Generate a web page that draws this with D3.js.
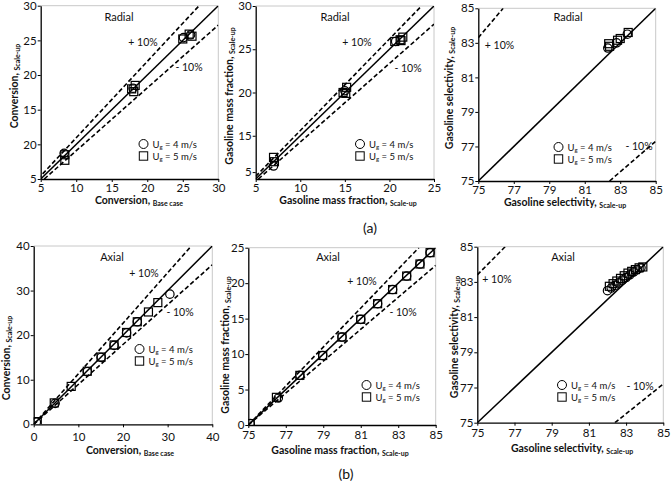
<!DOCTYPE html>
<html>
<head>
<meta charset="utf-8">
<script src="https://cdn.jsdelivr.net/npm/d3@7"></script>
<style>
  body { margin: 0; background: #fff; }
  svg { font-family: Lato, "Open Sans", sans-serif; }
</style>
</head>
<body>
<svg id="fig" width="671" height="483"></svg>
<script>
  // ---- data ----
  // (a) radial
  var radConv4 = [[8.3, 8.7], [18.0, 18.1], [25.1, 25.4], [26.1, 25.8]];
  var radConv5 = [[8.4, 8.5], [8.4, 7.7], [17.8, 18.0], [18.3, 18.5], [18.1, 17.6], [25.0, 25.2], [25.9, 25.9], [26.3, 25.6]];
  var radConvUpper = [[4.6, 5], [27.3, 30]];
  var radConvLower = [[5.5, 5], [30, 27.2]];

  var radGas4 = [[7.0, 6.5], [15.0, 15.2], [20.7, 20.9]];
  var radGas5 = [[7.0, 7.5], [7.1, 7.0], [14.8, 15.0], [15.2, 15.6], [15.1, 14.9], [20.6, 20.9], [21.2, 21.1], [21.5, 21.4], [21.3, 21.0]];
  var radGasUpper = [[5, 5.3], [23.6, 25]];
  var radGasLower = [[5.3, 5], [25, 22.9]];

  var radSel4 = [[82.3, 82.7], [82.8, 83.0], [83.4, 83.5]];
  var radSel5 = [[82.35, 82.95], [82.4, 82.8], [82.85, 83.15], [83.0, 83.25], [83.45, 83.6]];
  var radSelUpper = [[75, 83.3], [76.4, 85]];
  var radSelLower = [[82.4, 75], [85, 77.3]];

  // (b) axial
  var axConv4 = [[0.6, 0.5], [4.8, 4.7], [12.0, 11.8], [15.1, 15.0], [18.0, 17.7], [20.8, 20.5], [23.2, 23.0], [30.5, 29.2]];
  var axConv5 = [[0.8, 0.6], [4.6, 4.8], [8.4, 8.5], [12.0, 11.9], [15.1, 15.1], [18.0, 17.8], [20.8, 20.6], [23.2, 23.0], [25.7, 25.2], [27.8, 27.3]];
  var axConvUpper = [[0, 0], [35.3, 40]];
  var axConvLower = [[0, 0], [40, 35.8]];

  var axGas4 = [[75.1, 0.2], [76.6, 3.8], [77.75, 7.0], [78.97, 9.8], [80.0, 12.4], [81.0, 14.9], [81.9, 17.1], [82.7, 19.1], [83.45, 21.0], [84.16, 22.7], [84.7, 24.3]];
  var axGas5 = [[75.1, 0.2], [76.5, 3.9], [77.75, 7.0], [78.97, 9.8], [80.0, 12.4], [81.0, 14.9], [81.9, 17.1], [82.7, 19.1], [83.45, 21.0], [84.16, 22.7], [84.7, 24.3]];
  var axGasUpper = [[75, 0], [84.1, 25]];
  var axGasLower = [[75, 0], [85, 22.5]];

  var axSel4 = [[82.0, 82.5], [82.2, 82.65], [82.4, 82.8], [82.6, 82.95], [82.8, 83.1], [83.0, 83.25], [83.2, 83.4], [83.4, 83.55], [83.6, 83.7], [83.8, 83.8]];
  var axSel5 = [[82.1, 82.75], [82.3, 82.9], [82.5, 83.05], [82.7, 83.2], [82.9, 83.35], [83.1, 83.5], [83.3, 83.6], [83.5, 83.7], [83.7, 83.8], [83.9, 83.85]];
  var axSelUpper = [[75, 83.4], [76.5, 85]];
  var axSelLower = [[82.4, 75], [85, 77.2]];

  // ticks
  var convTicks = [5, 10, 15, 20, 25, 30];
  var convYLabels = ['5', '20', '15', '20', '25', '30'];
  var gasTicks = [5, 10, 15, 20, 25];
  var gasYTicks = [5.8, 10, 15, 20, 25];
  var gasYLabels = ['5', '15', '20', '25', '30'];
  var selTicks = [75, 77, 79, 81, 83, 85];
  var axConvTicks = [0, 10, 20, 30, 40];
  var axGasYTicks = [0, 5, 10, 15, 20, 25];

  var panels = [
    { box: [40.7, 5.7, 177.6, 173.3], xd: [5, 30], yd: [5, 30], xt: convTicks, yt: convTicks, yl: convYLabels,
      s4: radConv4, s5: radConv5, up: radConvUpper, lo: radConvLower, pad: 2.3,
      name: 'Radial', nameAt: [119, 17], plusAt: [143, 42], minusAt: [189, 67], legAt: [143.5, 144],
      xTitle: ['Conversion, ', 'Base case'], xTitleAt: [139, 204],
      yTitle: ['Conversion, ', 'Scale-up'], yTitleAt: [18, 86] },
    { box: [255.7, 6, 178.3, 173], xd: [5, 25], yd: [5, 25], xt: gasTicks, yt: gasYTicks, yl: gasYLabels,
      s4: radGas4, s5: radGas5, up: radGasUpper, lo: radGasLower, pad: 1.5,
      name: 'Radial', nameAt: [335, 17], plusAt: [357, 42], minusAt: [408, 68], legAt: [360, 144],
      xTitle: ['Gasoline mass fraction, ', 'Scale-up'], xTitleAt: [348, 204],
      yTitle: ['Gasoline mass fraction, ', 'Scale-up'], yTitleAt: [233, 96] },
    { box: [478.3, 8.3, 177.4, 172.7], xd: [75, 85], yd: [75, 85], xt: selTicks, yt: selTicks,
      s4: radSel4, s5: radSel5, up: radSelUpper, lo: radSelLower, pad: 1.5,
      name: 'Radial', nameAt: [568, 17], plusAt: [499.5, 45], minusAt: [639, 146], legAt: [558.5, 147],
      xTitle: ['Gasoline selectivity, ', 'Scale-up'], xTitleAt: [565, 206],
      yTitle: ['Gasoline selectivity, ', 'Scale-up'], yTitleAt: [453, 88] },
    { box: [33.7, 246, 178.6, 178.3], xd: [0, 40], yd: [0, 40], xt: axConvTicks, yt: axConvTicks,
      s4: axConv4, s5: axConv5, up: axConvUpper, lo: axConvLower, pad: 5.4,
      name: 'Axial', nameAt: [112, 257], plusAt: [144, 273], minusAt: [180, 312], legAt: [139.5, 349],
      xTitle: ['Conversion, ', 'Base case'], xTitleAt: [130, 454],
      yTitle: ['Conversion, ', 'Scale-up'], yTitleAt: [10, 358] },
    { box: [248.3, 247.7, 187.4, 177.3], xd: [75, 85], yd: [0, 25], xt: selTicks, yt: axGasYTicks,
      s4: axGas4, s5: axGas5, up: axGasUpper, lo: axGasLower, pad: 3,
      name: 'Axial', nameAt: [328, 257], plusAt: [362, 281], minusAt: [403, 312], legAt: [366.5, 385],
      xTitle: ['Gasoline mass fraction, ', 'Scale-up'], xTitleAt: [340, 454],
      yTitle: ['Gasoline mass fraction, ', 'Scale-up'], yTitleAt: [229, 345] },
    { box: [477.3, 246.7, 186, 176], xd: [75, 85], yd: [75, 85], xt: selTicks, yt: selTicks,
      s4: axSel4, s5: axSel5, up: axSelUpper, lo: axSelLower, pad: 3,
      name: 'Axial', nameAt: [563, 257], plusAt: [497, 279], minusAt: [640, 386], legAt: [562, 385],
      xTitle: ['Gasoline selectivity, ', 'Scale-up'], xTitleAt: [572, 452],
      yTitle: ['Gasoline selectivity, ', 'Scale-up'], yTitleAt: [458, 337] }
  ];

  var svg = d3.select('#fig');

  panels.forEach(function (p, i) {
    var w = p.box[2], h = p.box[3];
    var g = svg.append('g').attr('transform', 'translate(' + p.box[0] + ',' + p.box[1] + ')');

    var x = d3.scaleLinear().domain(p.xd).range([0, w]);
    var y = d3.scaleLinear().domain(p.yd).range([h, 0]);

    // light plot-area border on top/right
    g.append('path')
        .attr('d', 'M0,0H' + w + 'V' + h)
        .attr('fill', 'none')
        .attr('stroke', '#c8c8c8')
        .attr('stroke-width', 1);

    g.append('defs').append('clipPath')
        .attr('id', 'clip' + i)
        .append('rect')
          .attr('width', w)
          .attr('height', h);

    var plot = g.append('g').attr('clip-path', 'url(#clip' + i + ')');

    var line = d3.line()
        .x(function (d) { return x(d[0]); })
        .y(function (d) { return y(d[1]); });

    var diag = [[p.xd[0], p.yd[0]], [p.xd[1], p.yd[1]]];
    plot.append('path').datum(diag)
        .attr('d', line).attr('fill', 'none')
        .attr('stroke', '#000').attr('stroke-width', 1.5);

    [p.up, p.lo].forEach(function (l) {
      plot.append('path').datum(l)
          .attr('d', line).attr('fill', 'none')
          .attr('stroke', '#000').attr('stroke-width', 1.6)
          .attr('stroke-dasharray', '4.5,2.5');
    });

    // U_g = 5 m/s squares
    plot.selectAll('rect.s5').data(p.s5).enter().append('rect')
        .attr('class', 's5')
        .attr('x', function (d) { return x(d[0]) - 4; })
        .attr('y', function (d) { return y(d[1]) - 4; })
        .attr('width', 8).attr('height', 8)
        .attr('fill', 'none').attr('stroke', '#000').attr('stroke-width', 1.2);

    // U_g = 4 m/s circles
    plot.selectAll('circle.s4').data(p.s4).enter().append('circle')
        .attr('class', 's4')
        .attr('cx', function (d) { return x(d[0]); })
        .attr('cy', function (d) { return y(d[1]); })
        .attr('r', 4.2)
        .attr('fill', 'none').attr('stroke', '#000').attr('stroke-width', 1.2);

    // axes
    var xAxis = d3.axisBottom(x).tickValues(p.xt).tickSize(3).tickSizeOuter(0).tickPadding(p.pad)
        .tickFormat(function (d) { return d; });
    var yl = p.yl;
    var yAxis = d3.axisLeft(y).tickValues(p.yt).tickSize(3).tickSizeOuter(0).tickPadding(1)
        .tickFormat(function (d, k) { return yl ? yl[k] : d; });

    var gx = g.append('g').attr('transform', 'translate(0,' + h + ')').call(xAxis);
    var gy = g.append('g').call(yAxis);
    [gx, gy].forEach(function (a) {
      a.select('.domain').attr('stroke', '#000').attr('stroke-width', 1.3);
      a.selectAll('.tick line').attr('stroke', '#000');
      a.selectAll('.tick text')
          .attr('font-family', 'Lato, sans-serif')
          .attr('font-size', 11.5)
          .attr('fill', '#111');
    });
  });

  // ---- texts ----
  function label(txt, at, size) {
    svg.append('text')
        .attr('x', at[0]).attr('y', at[1] + 4)
        .attr('text-anchor', 'middle')
        .attr('font-size', size || 10.5)
        .attr('fill', '#111')
        .text(txt);
  }

  function title(parts, at, rotate) {
    var t = svg.append('text')
        .attr('text-anchor', 'middle')
        .attr('font-weight', 'bold')
        .attr('font-size', 10.5)
        .attr('fill', '#111');
    if (rotate) {
      t.attr('transform', 'translate(' + at[0] + ',' + at[1] + ') rotate(-90)');
    } else {
      t.attr('transform', 'translate(' + at[0] + ',' + at[1] + ')');
    }
    t.append('tspan').text(parts[0]);
    t.append('tspan').attr('font-size', 7).attr('dy', 2).text(parts[1]);
  }

  function legend(at) {
    svg.append('circle')
        .attr('cx', at[0]).attr('cy', at[1]).attr('r', 4.5)
        .attr('fill', 'none').attr('stroke', '#000').attr('stroke-width', 1);
    svg.append('rect')
        .attr('x', at[0] - 4.2).attr('y', at[1] + 12 - 4.2)
        .attr('width', 8.4).attr('height', 8.4)
        .attr('fill', 'none').attr('stroke', '#000').attr('stroke-width', 1);
    ['4', '5'].forEach(function (v, k) {
      var t = svg.append('text')
          .attr('x', at[0] + 9).attr('y', at[1] + 3.5 + k * 12)
          .attr('font-size', 9.5).attr('fill', '#111');
      t.append('tspan').text('U');
      t.append('tspan').attr('font-size', 6).attr('dy', 1.5).text('g');
      t.append('tspan').attr('dy', -1.5).text(' = ' + v + ' m/s');
    });
  }

  panels.forEach(function (p) {
    label(p.name, p.nameAt, 11);
    label('+ 10%', p.plusAt);
    label('- 10%', p.minusAt);
    legend(p.legAt);
    title(p.xTitle, p.xTitleAt, false);
    title(p.yTitle, p.yTitleAt, true);
  });

  label('(a)', [370, 229], 14);
  label('(b)', [346, 475], 14);
</script>
</body>
</html>
